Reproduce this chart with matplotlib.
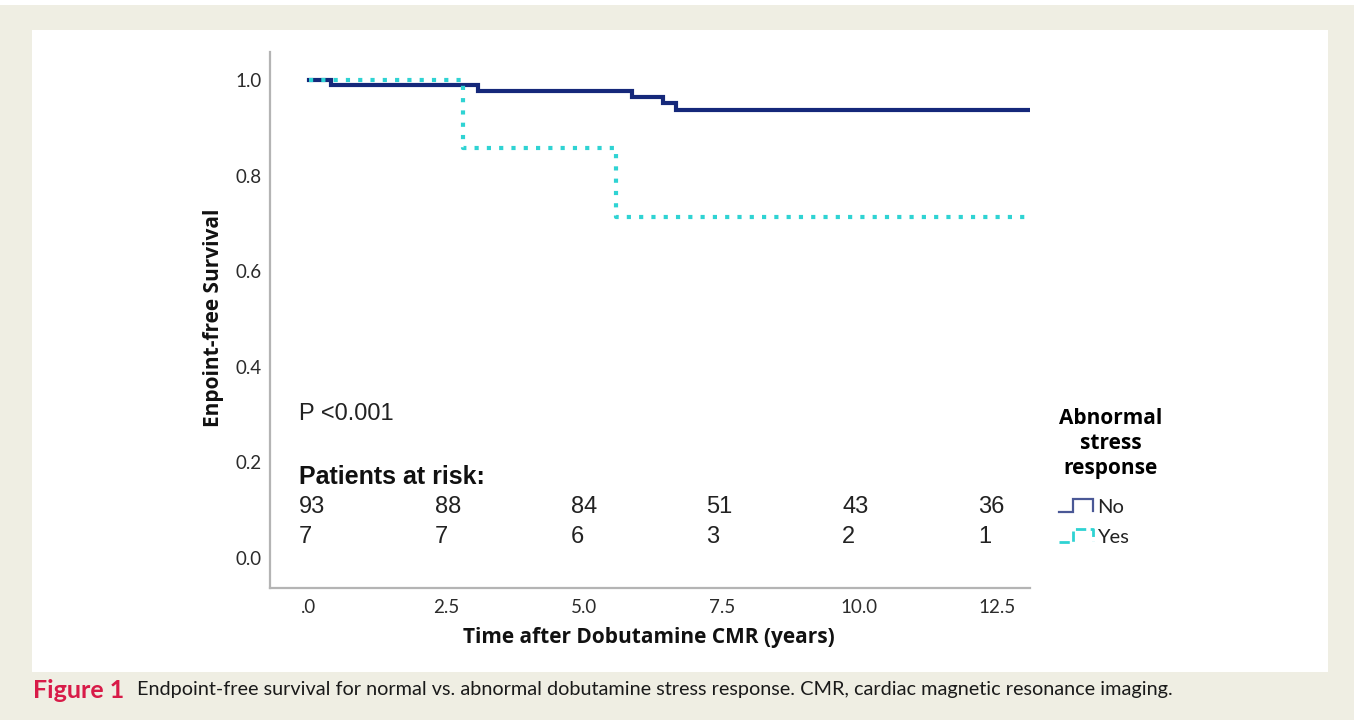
import matplotlib
matplotlib.use("Agg")
import matplotlib.pyplot as plt
from matplotlib.lines import Line2D
from matplotlib.legend_handler import HandlerBase
from matplotlib.patches import Rectangle

# ---------------- data ----------------
no_times = [0.0, 0.40, 3.07, 5.86, 6.43, 6.66]
no_surv = [1.0, 0.989, 0.978, 0.965, 0.953, 0.938]
yes_times = [0.0, 2.79, 5.57]
yes_surv = [1.0, 0.857, 0.714]
follow_end = 13.07

risk_times = [0.0, 2.5, 5.0, 7.5, 10.0, 12.5]
risk_no = [93, 88, 84, 51, 43, 36]
risk_yes = [7, 7, 6, 3, 2, 1]

x_ticks = [0.0, 2.5, 5.0, 7.5, 10.0, 12.5]
x_ticklabels = [".0", "2.5", "5.0", "7.5", "10.0", "12.5"]
y_ticks = [0.0, 0.2, 0.4, 0.6, 0.8, 1.0]
y_ticklabels = ["0.0", "0.2", "0.4", "0.6", "0.8", "1.0"]

group_labels = ["No", "Yes"]
legend_title = "Abnormal\nstress\nresponse"
p_text = "P <0.001"
risk_header = "Patients at risk:"
xlabel = "Time after Dobutamine CMR (years)"
ylabel = "Enpoint-free Survival"
caption_head = "Figure 1"
caption_body = ("Endpoint-free survival for normal vs. abnormal dobutamine stress "
                "response. CMR, cardiac magnetic resonance imaging.")

NAVY = "#15287a"
CYAN = "#2fd3d3"
SPINE = "#b4b4b4"
TXT = "#2b2b2b"
BEIGE = "#efeee3"

W, H = 1357, 725
fig = plt.figure(figsize=(W / 100, H / 100), dpi=100, facecolor="white")

# background panels
fig.patches.append(Rectangle((0, 5 / H), 1354 / W, 715 / H, transform=fig.transFigure,
                             facecolor=BEIGE, edgecolor="none", zorder=-10))
fig.patches.append(Rectangle((32 / W, (H - 672) / H), (1328 - 32) / W, (672 - 30) / H,
                             transform=fig.transFigure, facecolor="white",
                             edgecolor="none", zorder=-9))

ax_l, ax_r, ax_t, ax_b = 270, 1030, 52, 588
ax = fig.add_axes([ax_l / W, (H - ax_b) / H, (ax_r - ax_l) / W, (ax_b - ax_t) / H])
ax.set_facecolor("none")

# curves
xn = no_times + [follow_end]
yn = no_surv + [no_surv[-1]]
xy = yes_times + [follow_end]
yy = yes_surv + [yes_surv[-1]]
ax.step(xn, yn, where="post", color=NAVY, lw=3.0, solid_joinstyle="miter", zorder=3)
ax.step(xy, yy, where="post", color=CYAN, lw=3.0, linestyle=(0, (1, 1.95)),
        dash_capstyle="butt", zorder=4)

ax.set_xlim(-0.71, 13.10)
ax.set_ylim(-0.063, 1.059)
ax.set_xticks(x_ticks)
ax.set_xticklabels(x_ticklabels)
ax.set_yticks(y_ticks)
ax.set_yticklabels(y_ticklabels)
ax.tick_params(axis="both", length=0, labelsize=13.5, labelcolor=TXT)
ax.tick_params(axis="x", pad=8)
ax.tick_params(axis="y", pad=6)
for lab in ax.get_xticklabels() + ax.get_yticklabels():
    lab.set_fontfamily("Lato")

for s in ["top", "right"]:
    ax.spines[s].set_visible(False)
for s in ["left", "bottom"]:
    ax.spines[s].set_color(SPINE)
    ax.spines[s].set_linewidth(1.6)

ax.set_xlabel(xlabel, fontsize=15, fontweight="bold", fontfamily="Open Sans", color="#111111")
ax.set_ylabel(ylabel, fontsize=15, fontweight="bold", fontfamily="Open Sans", color="#111111")
ax.xaxis.label.set_va("center")
ax.yaxis.label.set_va("center")
ax.xaxis.set_label_coords((649 - ax_l) / (ax_r - ax_l), (ax_b - 638) / (ax_b - ax_t))
ax.yaxis.set_label_coords((213 - ax_l) / (ax_r - ax_l), (ax_b - 318) / (ax_b - ax_t))

# annotations
def fy(py):
    return (ax_b - py) / (ax_b - ax_t)

trans = ax.get_xaxis_transform()
ax.text(-0.18, fy(414), p_text, transform=trans, fontsize=17, fontfamily="Liberation Sans",
        color="#222222", va="center", ha="left")
ax.text(-0.18, fy(477), risk_header, transform=trans, fontsize=18, fontweight="bold",
        fontfamily="Liberation Sans", color="#111111", va="center", ha="left")
for t, n1, n2 in zip(risk_times, risk_no, risk_yes):
    xpos = -0.18 + t * 0.987
    ax.text(xpos, fy(507), str(n1), transform=trans, fontsize=17,
            fontfamily="Liberation Sans", color="#222222", va="center", ha="left")
    ax.text(xpos, fy(537), str(n2), transform=trans, fontsize=17,
            fontfamily="Liberation Sans", color="#222222", va="center", ha="left")


# legend with step-shaped handles
class StepHandler(HandlerBase):
    def create_artists(self, legend, orig_handle, xdescent, ydescent, width, height,
                       fontsize, trans):
        x0 = -xdescent
        y0 = -ydescent
        xs = [x0, x0 + 0.42 * width, x0 + 0.42 * width, x0 + width, x0 + width]
        ys = [y0 + 0.0 * height, y0 + 0.0 * height, y0 + 1.0 * height,
              y0 + 1.0 * height, y0 + 0.1 * height]
        ln = Line2D(xs, ys, color=orig_handle.get_color(), lw=orig_handle.get_linewidth(),
                    linestyle=orig_handle.get_linestyle(), dash_capstyle="butt",
                    solid_joinstyle="miter")
        ln.set_transform(trans)
        return [ln]


h_no = Line2D([], [], color="#4a5896", lw=1.6)
h_yes = Line2D([], [], color=CYAN, lw=2.0, linestyle=(0, (0.7, 3.0)))
leg = fig.legend([h_no, h_yes], group_labels, title=legend_title,
                 handler_map={Line2D: StepHandler()},
                 loc="upper left", bbox_to_anchor=(1049 / W, (H - 398) / H),
                 frameon=False, handlelength=1.7, handleheight=0.6,
                 handletextpad=0.2, labelspacing=0.65, borderpad=0.0,
                 prop={"family": "Lato", "size": 14.5},
                 title_fontproperties={"family": "Open Sans", "weight": "bold", "size": 15})
leg.get_title().set_linespacing(1.25)
leg.get_title().set_ha("center")
leg._legend_box.align = "left"
leg._legend_box.sep = 14
for t in leg.get_texts():
    t.set_color("#222222")

# caption
fig.text(33 / W, (H - 690) / H, caption_head, fontsize=18, fontweight="bold",
         fontfamily="Lato", color="#d81b48", va="center", ha="left")
fig.text(137 / W, (H - 690) / H, caption_body, fontsize=14.3, fontfamily="Lato",
         color="#1a1a1a", va="center", ha="left")

fig.savefig("out.png", dpi=100, facecolor=fig.get_facecolor())
